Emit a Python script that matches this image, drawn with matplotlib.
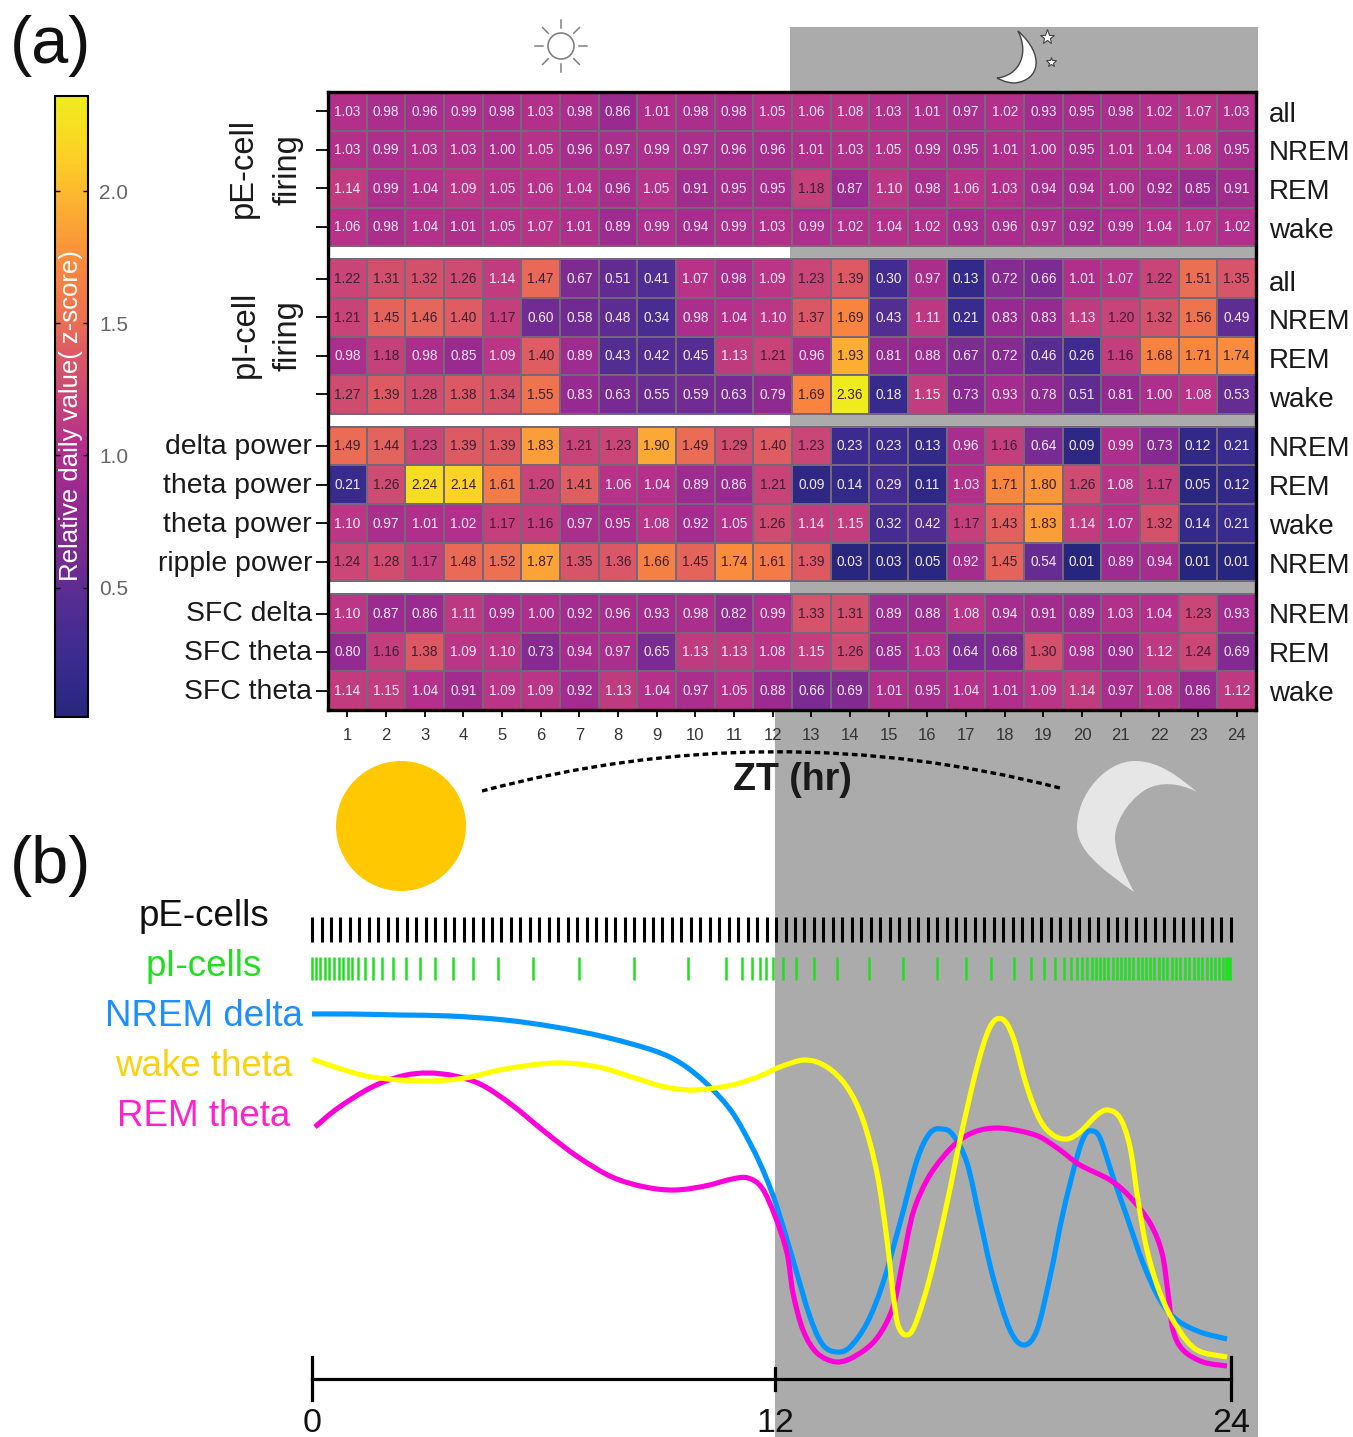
import numpy as np
from matplotlib import pyplot as plt
from matplotlib.colors import LinearSegmentedColormap
from matplotlib.patches import Circle, PathPatch, Rectangle
from matplotlib.path import Path

plt.rcParams['font.family'] = ['Liberation Sans', 'DejaVu Sans']

W, H = 1353, 1437

# panel (a) values, one list per row
pe_all = [1.03, 0.98, 0.96, 0.99, 0.98, 1.03, 0.98, 0.86, 1.01, 0.98, 0.98, 1.05, 1.06, 1.08, 1.03, 1.01, 0.97, 1.02, 0.93, 0.95, 0.98, 1.02, 1.07, 1.03]
pe_nrem = [1.03, 0.99, 1.03, 1.03, 1.00, 1.05, 0.96, 0.97, 0.99, 0.97, 0.96, 0.96, 1.01, 1.03, 1.05, 0.99, 0.95, 1.01, 1.00, 0.95, 1.01, 1.04, 1.08, 0.95]
pe_rem = [1.14, 0.99, 1.04, 1.09, 1.05, 1.06, 1.04, 0.96, 1.05, 0.91, 0.95, 0.95, 1.18, 0.87, 1.10, 0.98, 1.06, 1.03, 0.94, 0.94, 1.00, 0.92, 0.85, 0.91]
pe_wake = [1.06, 0.98, 1.04, 1.01, 1.05, 1.07, 1.01, 0.89, 0.99, 0.94, 0.99, 1.03, 0.99, 1.02, 1.04, 1.02, 0.93, 0.96, 0.97, 0.92, 0.99, 1.04, 1.07, 1.02]
pi_all = [1.22, 1.31, 1.32, 1.26, 1.14, 1.47, 0.67, 0.51, 0.41, 1.07, 0.98, 1.09, 1.23, 1.39, 0.30, 0.97, 0.13, 0.72, 0.66, 1.01, 1.07, 1.22, 1.51, 1.35]
pi_nrem = [1.21, 1.45, 1.46, 1.40, 1.17, 0.60, 0.58, 0.48, 0.34, 0.98, 1.04, 1.10, 1.37, 1.69, 0.43, 1.11, 0.21, 0.83, 0.83, 1.13, 1.20, 1.32, 1.56, 0.49]
pi_rem = [0.98, 1.18, 0.98, 0.85, 1.09, 1.40, 0.89, 0.43, 0.42, 0.45, 1.13, 1.21, 0.96, 1.93, 0.81, 0.88, 0.67, 0.72, 0.46, 0.26, 1.16, 1.68, 1.71, 1.74]
pi_wake = [1.27, 1.39, 1.28, 1.38, 1.34, 1.55, 0.83, 0.63, 0.55, 0.59, 0.63, 0.79, 1.69, 2.36, 0.18, 1.15, 0.73, 0.93, 0.78, 0.51, 0.81, 1.00, 1.08, 0.53]
delta_nrem = [1.49, 1.44, 1.23, 1.39, 1.39, 1.83, 1.21, 1.23, 1.90, 1.49, 1.29, 1.40, 1.23, 0.23, 0.23, 0.13, 0.96, 1.16, 0.64, 0.09, 0.99, 0.73, 0.12, 0.21]
theta_rem = [0.21, 1.26, 2.24, 2.14, 1.61, 1.20, 1.41, 1.06, 1.04, 0.89, 0.86, 1.21, 0.09, 0.14, 0.29, 0.11, 1.03, 1.71, 1.80, 1.26, 1.08, 1.17, 0.05, 0.12]
theta_wake = [1.10, 0.97, 1.01, 1.02, 1.17, 1.16, 0.97, 0.95, 1.08, 0.92, 1.05, 1.26, 1.14, 1.15, 0.32, 0.42, 1.17, 1.43, 1.83, 1.14, 1.07, 1.32, 0.14, 0.21]
ripple_nrem = [1.24, 1.28, 1.17, 1.48, 1.52, 1.87, 1.35, 1.36, 1.66, 1.45, 1.74, 1.61, 1.39, 0.03, 0.03, 0.05, 0.92, 1.45, 0.54, 0.01, 0.89, 0.94, 0.01, 0.01]
sfc_delta = [1.10, 0.87, 0.86, 1.11, 0.99, 1.00, 0.92, 0.96, 0.93, 0.98, 0.82, 0.99, 1.33, 1.31, 0.89, 0.88, 1.08, 0.94, 0.91, 0.89, 1.03, 1.04, 1.23, 0.93]
sfc_theta_rem = [0.80, 1.16, 1.38, 1.09, 1.10, 0.73, 0.94, 0.97, 0.65, 1.13, 1.13, 1.08, 1.15, 1.26, 0.85, 1.03, 0.64, 0.68, 1.30, 0.98, 0.90, 1.12, 1.24, 0.69]
sfc_theta_wake = [1.14, 1.15, 1.04, 0.91, 1.09, 1.09, 0.92, 1.13, 1.04, 0.97, 1.05, 0.88, 0.66, 0.69, 1.01, 0.95, 1.04, 1.01, 1.09, 1.14, 0.97, 1.08, 0.86, 1.12]

zt_hours = list(range(1, 25))
left_labels = ['delta power', 'theta power', 'theta power', 'ripple power', 'SFC delta', 'SFC theta', 'SFC theta']
right_labels = ['all', 'NREM', 'REM', 'wake', 'all', 'NREM', 'REM', 'wake', 'NREM', 'REM', 'wake', 'NREM', 'NREM', 'REM', 'wake']

pe_spikes = [312, 321.5, 330.9, 340.4, 349.9, 359.4, 368.8, 378.3, 387.8, 397.2, 406.7, 416.2, 425.6, 435.1, 444.6, 454.1, 463.5, 473, 482.5, 491.9, 501.4, 510.9, 520.3, 529.8, 539.3, 548.8, 558.2, 567.7, 577.2, 586.6, 596.1, 605.6, 615, 624.5, 634, 643.5, 652.9, 662.4, 671.9, 681.3, 690.8, 700.3, 709.7, 719.2, 728.7, 738.2, 747.6, 757.1, 766.6, 776, 785.5, 795, 804.4, 813.9, 823.4, 832.9, 842.3, 851.8, 861.3, 870.7, 880.2, 889.7, 899.1, 908.6, 918.1, 927.6, 937, 946.5, 956, 965.4, 974.9, 984.4, 993.8, 1003.3, 1012.8, 1022.3, 1031.7, 1041.2, 1050.7, 1060.1, 1069.6, 1079.1, 1088.5, 1098, 1107.5, 1117, 1126.4, 1135.9, 1145.4, 1154.8, 1164.3, 1173.8, 1183.2, 1192.7, 1202.2, 1211.7, 1221.1, 1230.6]
pi_spikes = [312, 315.7, 320.3, 324.7, 329.3, 334, 338.7, 343, 347.7, 352.3, 358, 365.3, 373.3, 382.3, 393.3, 406, 419.7, 435, 453, 473, 498.3, 533.3, 579.3, 633.7, 687.7, 725.7, 741.7, 752, 760, 766.3, 772.7, 782.7, 796, 814.3, 837.3, 869, 903.3, 936.7, 965.7, 991.3, 1014.3, 1031, 1043.7, 1054.7, 1063.7, 1071.3, 1077, 1081.7, 1086.7, 1091.7, 1096, 1100, 1104.3, 1108.3, 1112.7, 1116.7, 1120.7, 1125, 1129.3, 1133.3, 1137.7, 1142, 1146, 1150, 1154.3, 1158.7, 1163.3, 1167.3, 1171.7, 1176, 1180.3, 1185, 1189.3, 1193.7, 1197.7, 1202, 1206.7, 1210.7, 1215, 1219.3, 1223.3, 1226, 1228, 1230]

nrem_x = [312, 350, 400, 450, 505, 555, 605, 655, 682, 708, 732, 752, 765, 777, 793, 810, 823, 837, 850, 867, 883, 900, 917, 930, 942, 953, 967, 980, 993, 1010, 1024, 1037, 1050, 1063, 1077, 1085, 1092, 1100, 1113, 1127, 1143, 1160, 1177, 1200, 1227]
nrem_y = [1014, 1014, 1015, 1016, 1020, 1027, 1037, 1051, 1064, 1085, 1112, 1147, 1175, 1207, 1260, 1317, 1345, 1352, 1347, 1323, 1283, 1223, 1160, 1133, 1129, 1135, 1163, 1220, 1277, 1330, 1345, 1330, 1277, 1213, 1157, 1135, 1131, 1138, 1177, 1217, 1263, 1300, 1320, 1332, 1339]
wake_x = [312, 338, 372, 422, 465, 505, 555, 598, 638, 665, 695, 732, 760, 780, 805, 827, 847, 863, 877, 887, 893, 898, 906, 915, 930, 947, 960, 977, 990, 1002, 1013, 1027, 1040, 1053, 1067, 1080, 1097, 1108, 1120, 1130, 1138, 1147, 1160, 1177, 1197, 1227]
wake_y = [1059, 1068, 1077, 1081, 1078, 1069, 1063, 1067, 1079, 1087, 1090, 1085, 1076, 1067, 1060, 1067, 1087, 1120, 1173, 1240, 1293, 1325, 1335, 1325, 1277, 1203, 1140, 1067, 1027, 1019, 1037, 1087, 1120, 1135, 1139, 1132, 1115, 1110, 1118, 1147, 1200, 1250, 1293, 1327, 1350, 1357]
rem_x = [315, 338, 372, 402, 428, 455, 482, 512, 545, 578, 612, 645, 675, 705, 732, 748, 762, 775, 787, 793, 803, 817, 837, 857, 877, 893, 903, 913, 927, 943, 960, 977, 997, 1020, 1040, 1060, 1080, 1110, 1130, 1150, 1162, 1168, 1173, 1183, 1203, 1227]
rem_y = [1127, 1108, 1087, 1076, 1073, 1076, 1085, 1105, 1132, 1157, 1177, 1187, 1190, 1186, 1179, 1178, 1188, 1216, 1253, 1293, 1330, 1353, 1362, 1355, 1338, 1307, 1260, 1213, 1180, 1157, 1140, 1131, 1128, 1131, 1137, 1150, 1165, 1180, 1197, 1223, 1253, 1293, 1330, 1350, 1362, 1366]

colors_cm = ['#27267e', '#3b2b90', '#532d92', '#722b92', '#9a2a90', '#b5308a', '#c84478', '#dd5b63', '#ea6c55', '#f8853f', '#fb9c38', '#fcd225', '#efec1e']
stops_cm = [0.0, 0.09, 0.18, 0.25, 0.36, 0.44, 0.51, 0.59, 0.63, 0.72, 0.775, 0.91, 1.0]
gray = '#ababab'

fig = plt.figure(figsize=(W / 100, H / 100), dpi=100)

def px_axes(x0, y0, x1, y1):
    return fig.add_axes([x0 / W, 1 - y1 / H, (x1 - x0) / W, (y1 - y0) / H])

def draw_curve(a, xs, ys, color):
    # smooth bezier stroke that passes through the points
    p = np.column_stack([xs, ys]).astype(float)
    verts = [tuple(p[0])]
    for i in range(len(p) - 1):
        p0 = p[max(i - 1, 0)]
        p3 = p[min(i + 2, len(p) - 1)]
        verts.append(tuple(p[i] + (p[i + 1] - p0) / 6))
        verts.append(tuple(p[i + 1] - (p3 - p[i]) / 6))
        verts.append(tuple(p[i + 1]))
    codes = [Path.MOVETO] + [Path.CURVE4] * (len(verts) - 1)
    a.add_patch(PathPatch(Path(verts, codes), fill=False, ec=color, lw=3.7, capstyle='butt', joinstyle='round'))

# background layer in image pixels
bg = fig.add_axes([0, 0, 1, 1], zorder=0)
bg.set_xlim(0, W)
bg.set_ylim(H, 0)
bg.axis('off')
bg.add_patch(Rectangle((790, 27), 468, 684, color=gray, lw=0))
bg.add_patch(Rectangle((775, 711), 483, H - 711, color=gray, lw=0))

# sun and moon icons at the top
bg.add_patch(Circle((561, 46), 13, fill=False, ec='#808080', lw=1.2))
for a in np.radians(np.arange(0, 360, 45)):
    bg.plot([561 + 18 * np.cos(a), 561 + 26 * np.cos(a)], [46 + 18 * np.sin(a), 46 + 26 * np.sin(a)], color='#808080', lw=1.1)
moon_top = Path([(1018, 31), (1045, 55), (1040, 80), (1015, 83), (1005, 83), (997, 78), (997, 78), (1018, 76), (1030, 55), (1018, 31)],
                [1, 4, 4, 4, 4, 4, 4, 4, 4, 4])
bg.add_patch(PathPatch(moon_top, fc='white', ec='#444444', lw=1))
bg.plot([1047], [37], marker='*', ms=11, mfc='white', mec='#444444', mew=0.8)
bg.plot([1051], [62], marker='*', ms=7, mfc='white', mec='#444444', mew=0.8)

# heatmap, one mesh per block of rows so the white/grey gaps stay clean
groups = [[pe_all, pe_nrem, pe_rem, pe_wake], [pi_all, pi_nrem, pi_rem, pi_wake],
          [delta_nrem, theta_rem, theta_wake, ripple_nrem], [sfc_delta, sfc_theta_rem, sfc_theta_wake]]
gap = 13 / 38.53
x_edges = np.arange(0.5, 25.5)

cmap = LinearSegmentedColormap.from_list('daily', list(zip(stops_cm, colors_cm)))
ax = px_axes(328, 92, 1256, 710)
ax.set_zorder(1)
ax.patch.set_alpha(0)

centers = []
top = 0.0
for g in groups:
    y_edges = top + np.arange(len(g) + 1)
    mesh = ax.pcolormesh(x_edges, y_edges, np.array(g), cmap=cmap, vmin=0.01, vmax=2.36, edgecolors='#75667a', linewidth=0.35)
    for i, r in enumerate(g):
        centers.append(top + i + 0.5)
        for j, v in enumerate(r):
            c = '#3b1f35' if v >= 1.16 else '#f4e9f4'
            ax.text(zt_hours[j], top + i + 0.51, '%.2f' % v, ha='center', va='center', fontsize=9.8, color=c)
    top = y_edges[-1] + gap
ax.set_xlim(0.5, 24.5)
ax.set_ylim(top - gap, 0)

ax.set_xticks(zt_hours)
ax.set_xticklabels(zt_hours, fontsize=12, color='#333333')
ax.set_yticks(centers)
ax.set_yticklabels([])
ax.tick_params(axis='x', length=5, width=1.3, pad=8)
ax.tick_params(axis='y', length=9, width=1.3)
for s in ax.spines.values():
    s.set_linewidth(2.4)

row_px = [112, 150, 189, 228, 281, 319, 358, 397, 446, 485, 524, 563, 613, 652, 691]
for y, t in zip(row_px, right_labels):
    bg.text(1269, y + 3, t, fontsize=20, va='center', ha='left', color='#1a1a1a')
for y, t in zip(row_px[8:], left_labels):
    bg.text(312, y + 1, t, fontsize=20.4, va='center', ha='right', color='#1a1a1a')
bg.text(243, 168, 'pE-cell', fontsize=23.5, rotation=90, va='center', ha='center', color='#1a1a1a')
bg.text(288, 170, 'firing', fontsize=23.5, rotation=90, va='center', ha='center', color='#1a1a1a')
bg.text(245, 334, 'pI-cell', fontsize=23.5, rotation=90, va='center', ha='center', color='#1a1a1a')
bg.text(288, 336, 'firing', fontsize=23.5, rotation=90, va='center', ha='center', color='#1a1a1a')
bg.text(10, 46, '(a)', fontsize=48, va='center', ha='left', color='#111111')
bg.text(10, 866, '(b)', fontsize=48, va='center', ha='left', color='#111111')

# colorbar
cax = px_axes(55, 96, 88, 717)
cbar = fig.colorbar(mesh, cax=cax)
cbar.set_ticks([0.5, 1.0, 1.5, 2.0])
cbar.ax.tick_params(direction='in', length=3.5, width=1, left=True, right=True, labelsize=15, labelcolor='#666666', pad=8)
cbar.outline.set_linewidth(1.5)
cbar.ax.text(0.5, 0.486, 'Relative daily value( z-score)', rotation=90, transform=cbar.ax.transAxes,
             ha='center', va='center', color='white', fontsize=18.5)

# panel (b)
bg.text(792, 780, 'ZT (hr)', fontsize=27, fontweight='bold', ha='center', va='center', color='#1a1a1a')
arc = Path([(482, 791), (771, 714), (1060, 788)], [Path.MOVETO, Path.CURVE3, Path.CURVE3])
bg.add_patch(PathPatch(arc, fill=False, ec='black', lw=2.4, ls=(0, (1.7, 1.1))))
bg.add_patch(Circle((401, 826), 65, fc='#ffc800', ec='none'))
moon = Path([(1134, 892), (1100, 868), (1077, 850), (1077, 827), (1077, 795), (1105, 761), (1135, 761),
             (1160, 761), (1180, 778), (1197, 792), (1180, 783), (1160, 781), (1145, 790),
             (1125, 803), (1115, 825), (1115, 837), (1115, 855), (1125, 875), (1134, 892)],
            [1] + [4] * 18)
bg.add_patch(PathPatch(moon, fc='#e6e6e6', ec='none'))

bg.eventplot(pe_spikes, lineoffsets=929, linelengths=25, linewidths=2.2, colors='black')
bg.eventplot(pi_spikes, lineoffsets=968.5, linelengths=23, linewidths=1.8, colors='#1fe01f')
bg.set_xlim(0, W)
bg.set_ylim(H, 0)

draw_curve(bg, nrem_x, nrem_y, '#0095ff')
draw_curve(bg, rem_x, rem_y, '#ff00d8')
draw_curve(bg, wake_x, wake_y, '#ffff00')

bg.plot([312, 1231], [1379, 1379], color='black', lw=2.3)
bg.plot([312, 312], [1357, 1400], color='black', lw=2.3)
bg.plot([775, 775], [1368, 1390], color='black', lw=2.3)
bg.plot([1231, 1231], [1357, 1400], color='black', lw=2.3)
for x, t in zip([312, 775, 1231], ['0', '12', '24']):
    bg.text(x, 1423, t, fontsize=24.5, ha='center', va='center', color='#111111')

bg.text(204, 916, 'pE-cells', fontsize=26.5, ha='center', va='center', color='#111111')
bg.text(204, 966, 'pI-cells', fontsize=26.5, ha='center', va='center', color='#22dd22')
bg.text(204, 1017, 'NREM delta', fontsize=26.5, ha='center', va='center', color='#1f8fff')
bg.text(204, 1067, 'wake theta', fontsize=26.5, ha='center', va='center', color='#f7d30f')
bg.text(204, 1117, 'REM theta', fontsize=26.5, ha='center', va='center', color='#ff22cc')

fig.savefig('out.png', dpi=100)
